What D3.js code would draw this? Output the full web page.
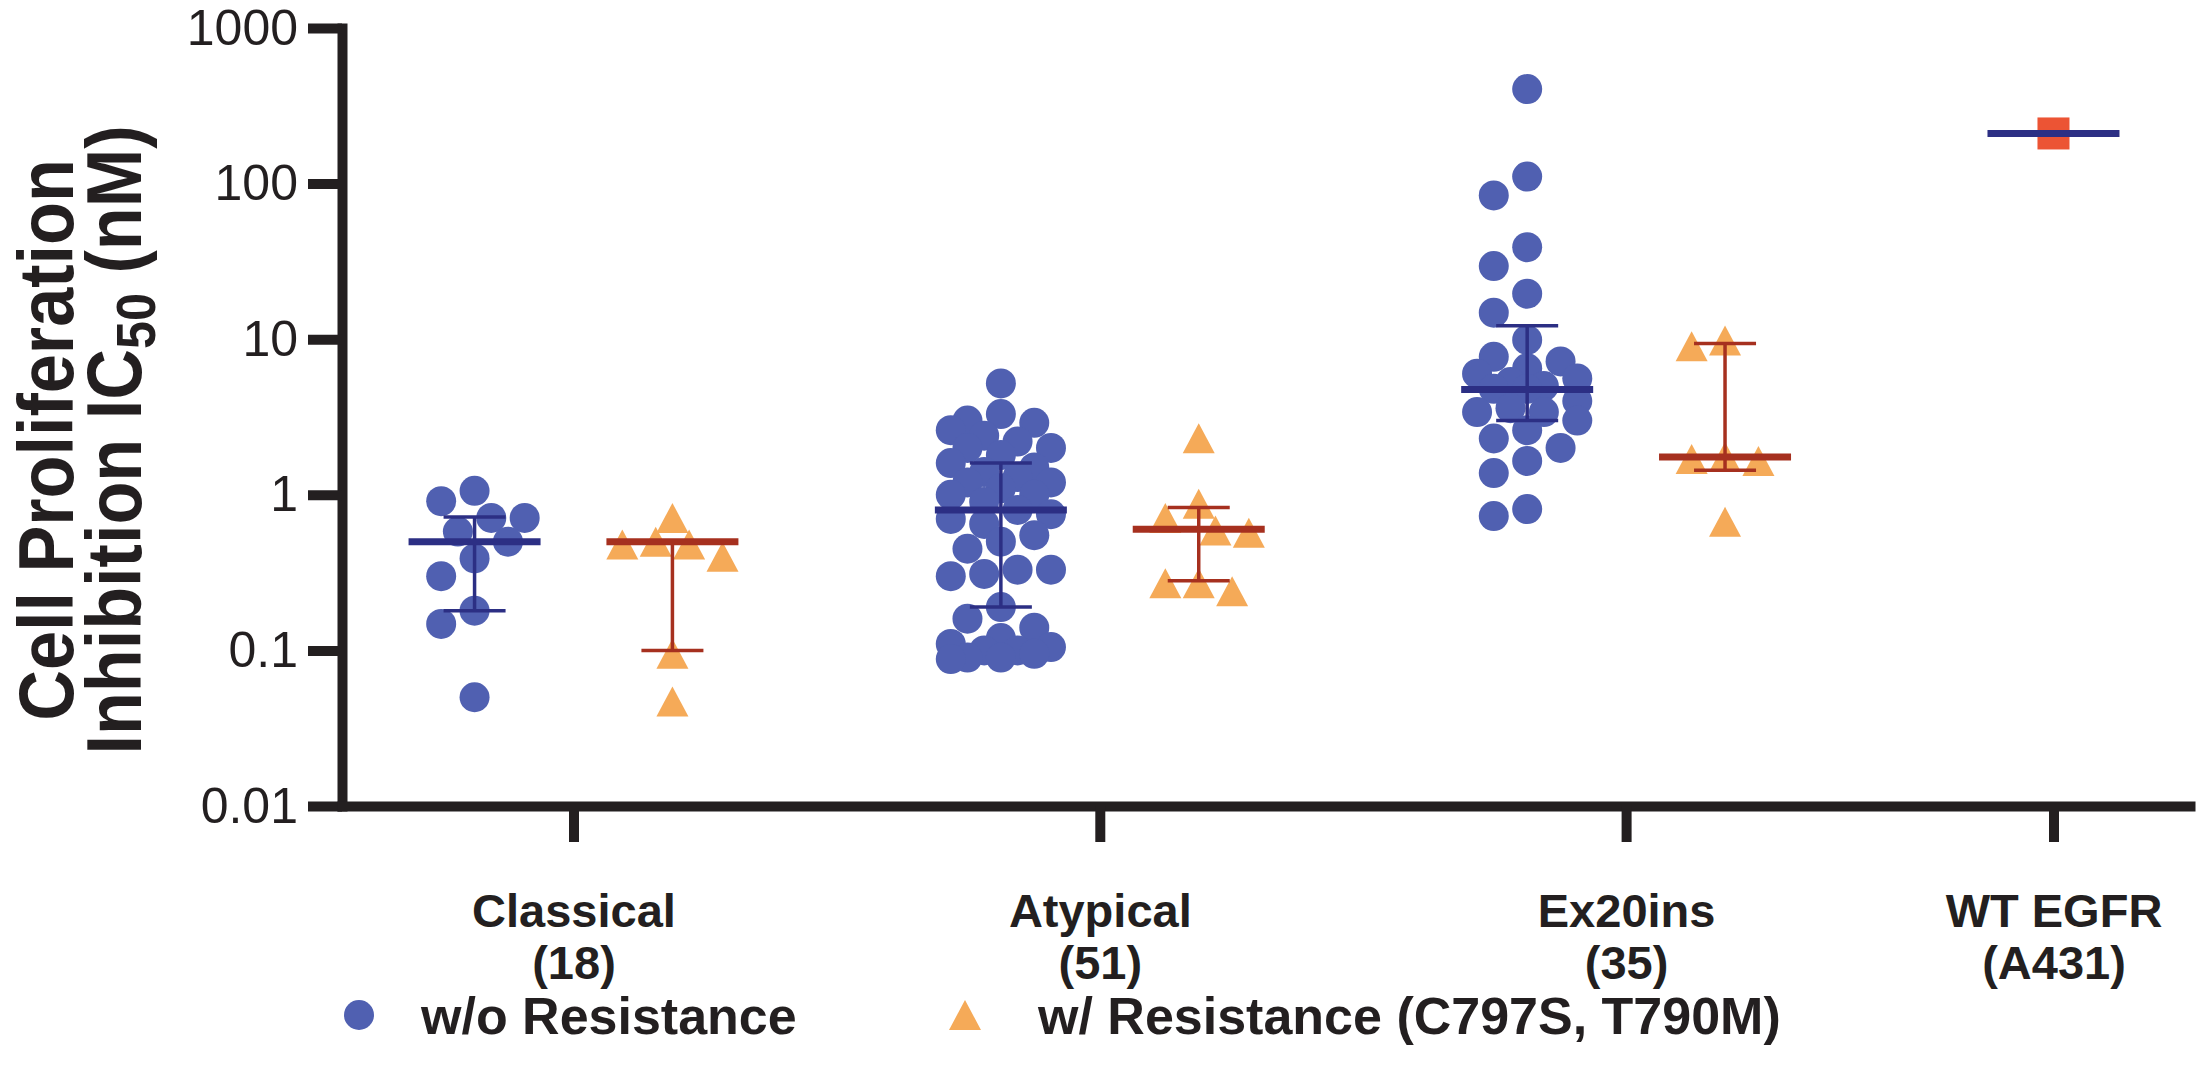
<!DOCTYPE html>
<meta charset="utf-8">
<title>IC50 by EGFR mutation class</title>
<style>

body {
  margin: 0;
  background: #fff;
}

text {
  font-family: "Liberation Sans", Arial, sans-serif;
  fill: #231f20;
}

.axis path, .axis line {
  stroke: #231f20;
  stroke-width: 10;
  fill: none;
}

.axis .domain {
  stroke-linecap: square;
}

.y.axis text {
  font-size: 50px;
}

.x.axis text {
  font-size: 47px;
  font-weight: bold;
}

.title {
  font-size: 78px;
  font-weight: bold;
}

.legend text {
  font-size: 52px;
  font-weight: bold;
}

</style>
<body>
<script src="https://d3js.org/d3.v7.min.js"></script>
<script>

// categories
var groups = ["Classical", "Atypical", "Ex20ins", "WT EGFR"];
var groupNotes = ["(18)", "(51)", "(35)", "(A431)"];
var series = ["w/o Resistance", "w/ Resistance (C797S, T790M)"];
var yTicks = [0.01, 0.1, 1, 10, 100, 1000];

// IC50 values (nM)
var classicalWo = [1.06, 0.91, 0.71, 0.71, 0.58, 0.50, 0.39, 0.30, 0.18, 0.148, 0.050];
var classicalW = [0.71, 0.50, 0.48, 0.48, 0.40, 0.095, 0.047];
var atypicalWo = [5.2, 3.3, 3.0, 2.9, 2.6, 2.4, 2.2, 2.0, 2.0, 1.8, 1.6, 1.5, 1.4, 1.3, 1.2,
  1.2, 1.1, 1.0, 1.0, 0.9, 0.8, 0.75, 0.7, 0.65, 0.55, 0.5, 0.45, 0.33, 0.33, 0.31, 0.3,
  0.19, 0.16, 0.14, 0.12, 0.11, 0.105, 0.1, 0.1, 0.095, 0.09, 0.09, 0.088];
var atypicalW = [2.31, 0.875, 0.71, 0.59, 0.57, 0.27, 0.27, 0.24];
var ex20Wo = [405, 111, 84, 39, 29.5, 19.6, 14.8, 9.9, 7.7, 7.2, 6.5, 6.0, 5.6, 5.3, 5.0,
  4.8, 4.8, 4.0, 3.6, 3.4, 3.4, 3.0, 2.6, 2.3, 2.0, 1.65, 1.38, 0.81, 0.73];
var ex20W = [9.8, 9.0, 1.75, 1.7, 1.65, 0.67];
var wtWo = [210];

// median with interquartile bars, per group
var medianWo = [0.50, 0.80, 4.75, 210];
var lowerWo = [0.18, 0.19, 3.0, null];
var upperWo = [0.72, 1.6, 12.2, null];
var medianW = [0.50, 0.60, 1.75];
var lowerW = [0.10, 0.28, 1.44];
var upperW = [0.50, 0.83, 9.4];

var width = 2200, height = 1081;

var svg = d3.select("body").append("svg")
    .attr("width", width)
    .attr("height", height);

var y = d3.scaleLog()
    .domain([0.01, 1000])
    .range([806, 28]);

// x in column units: two columns per group, a gap between groups
var x = d3.scaleLinear()
    .domain([0, 9.34])
    .range([342, 2190]);

var groupStep = 2.66, firstCol = 0.67;

function colPos(g, s) { return firstCol + g * groupStep + s; }

function groupCenter(g) {
  var n = g == 3 ? 1 : 2;
  return colPos(g, (n - 1) / 2);
}

var blue = "#5060b1", navy = "#2c2f84", orange = "#f5aa58", brick = "#a6301f", red = "#ec5434";

// axes
var yAxis = d3.axisLeft(y)
    .tickValues(yTicks)
    .tickFormat(d3.format("~g"))
    .tickSize(34)
    .tickSizeOuter(0)
    .tickPadding(10);

svg.append("g")
    .attr("class", "y axis")
    .attr("transform", "translate(" + x(0) + ",0)")
    .call(yAxis);

var xAxis = d3.axisBottom(x)
    .tickValues(d3.range(groups.length).map(groupCenter))
    .tickFormat("")
    .tickSize(36)
    .tickSizeOuter(0);

var gx = svg.append("g")
    .attr("class", "x axis")
    .attr("transform", "translate(0," + y(0.01) + ")")
    .call(xAxis);

gx.selectAll(".tick").each(function(d, i) {
  var t = d3.select(this).append("text")
      .attr("text-anchor", "middle");
  t.append("tspan").attr("x", 0).attr("y", 121).text(groups[i]);
  t.append("tspan").attr("x", 0).attr("y", 173).text(groupNotes[i]);
});

// y title (set in a narrow bold face in the original)
var title = svg.append("text")
    .attr("class", "title")
    .attr("transform", "translate(0,440) rotate(-90) scale(0.9,1)")
    .attr("text-anchor", "middle");
title.append("tspan").attr("x", 0).attr("y", 73).text("Cell Proliferation");
title.append("tspan").attr("x", 0).attr("y", 141).text("Inhibition IC")
  .append("tspan").attr("dy", 14).style("font-size", "56px").text("50")
  .select(function() { return this.parentNode; })
  .append("tspan").attr("dy", -14).text(" (nM)");

// simple beeswarm: nearest free slot to the column centre
function swarm(values, cx, r, step, maxOff) {
  var cands = [0];
  for (var k = 1; k * step <= maxOff + 0.1; k++) cands.push(-k * step, k * step);
  var placed = [];
  values.slice().sort(function(a, b) { return b - a; }).forEach(function(v) {
    var py = y(v), best = null, bestD = -1, bestOff = 0;
    for (var j = 0; j < cands.length; j++) {
      var px = cx + cands[j], dmin = Infinity;
      placed.forEach(function(p) {
        var d = Math.hypot(p.x - px, p.y - py);
        if (d < dmin) dmin = d;
      });
      if (dmin >= 2 * r * 0.95) { best = cands[j]; break; }
      if (dmin > bestD) { bestD = dmin; bestOff = cands[j]; }
    }
    if (best === null) best = bestOff;
    placed.push({v: v, x: cx + best, y: py});
  });
  return placed;
}

function triangle(cx, cy, w, h) {
  return "M" + cx + "," + (cy - h / 2) +
         "L" + (cx + w / 2) + "," + (cy + h / 2) +
         "L" + (cx - w / 2) + "," + (cy + h / 2) + "Z";
}

var woSets = [classicalWo, atypicalWo, ex20Wo];
var wSets = [classicalW, atypicalW, ex20W];

woSets.forEach(function(vals, g) {
  svg.append("g").selectAll("circle")
      .data(swarm(vals, x(colPos(g, 0)), 15, 16.7, 50))
    .enter().append("circle")
      .attr("cx", function(d) { return d.x; })
      .attr("cy", function(d) { return d.y; })
      .attr("r", 15)
      .style("fill", blue);
});

wSets.forEach(function(vals, g) {
  svg.append("g").selectAll("path")
      .data(swarm(vals, x(colPos(g, 1)), 15, 16.7, 50))
    .enter().append("path")
      .attr("d", function(d) { return triangle(d.x, d.y, 32, 30); })
      .style("fill", orange);
});

// WT EGFR square
svg.append("g").selectAll("rect")
    .data(wtWo)
  .enter().append("rect")
    .attr("x", x(colPos(3, 0)) - 16)
    .attr("y", function(d) { return y(d) - 16; })
    .attr("width", 32)
    .attr("height", 32)
    .style("fill", red);

// median and interquartile bars
function summary(med, lo, hi, s, color) {
  med.forEach(function(m, g) {
    var cx = x(colPos(g, s));
    var gg = svg.append("g").style("stroke", color);
    if (lo[g] != null) {
      gg.append("line")
          .attr("x1", cx).attr("x2", cx)
          .attr("y1", y(hi[g])).attr("y2", y(lo[g]))
          .style("stroke-width", 3.5);
      [lo[g], hi[g]].forEach(function(v) {
        gg.append("line")
            .attr("x1", cx - 31).attr("x2", cx + 31)
            .attr("y1", y(v)).attr("y2", y(v))
            .style("stroke-width", 3.5);
      });
    }
    gg.append("line")
        .attr("x1", cx - 66).attr("x2", cx + 66)
        .attr("y1", y(m)).attr("y2", y(m))
        .style("stroke-width", 7);
  });
}

summary(medianWo, lowerWo, upperWo, 0, navy);
summary(medianW, lowerW, upperW, 1, brick);

// legend
var legend = svg.append("g")
    .attr("class", "legend")
    .attr("transform", "translate(0,1015)");

legend.append("circle")
    .attr("cx", 359)
    .attr("r", 15)
    .style("fill", blue);

legend.append("text")
    .attr("x", 421)
    .attr("dy", "0.36em")
    .text(series[0]);

legend.append("path")
    .attr("d", triangle(965, 0, 32, 30))
    .style("fill", orange);

legend.append("text")
    .attr("x", 1038)
    .attr("dy", "0.36em")
    .text(series[1]);

</script>
</body>
